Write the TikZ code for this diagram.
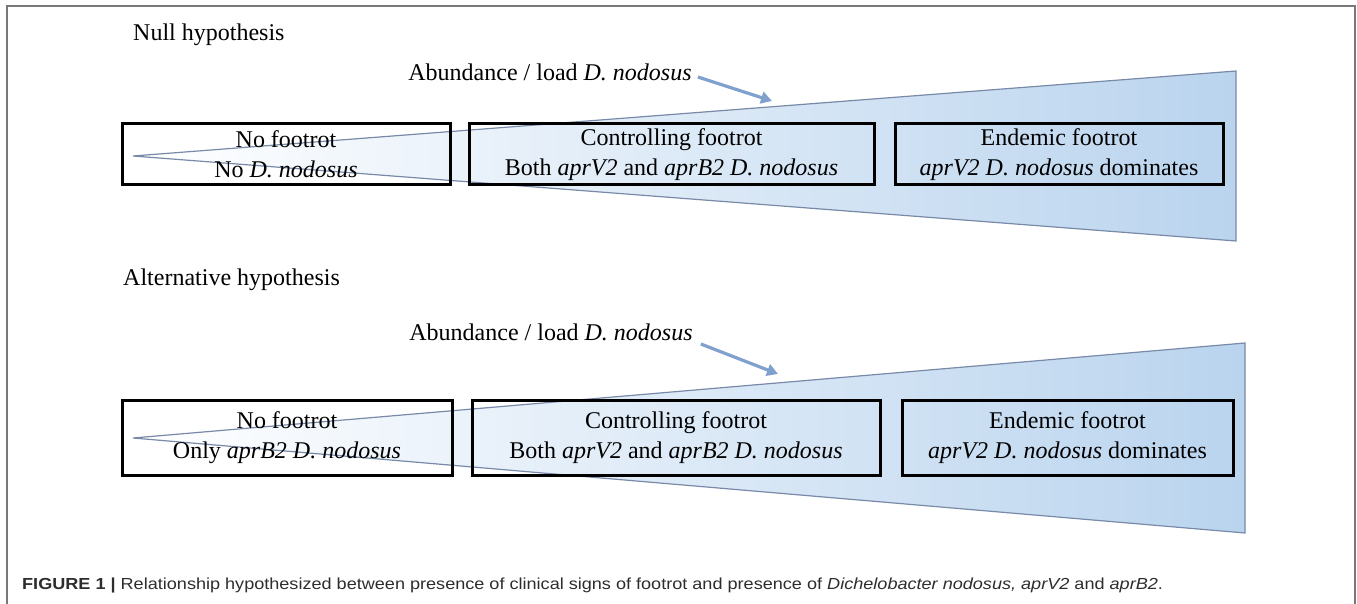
\documentclass[tikz,border=0pt]{standalone}
\usepackage{fontspec}
\setmainfont{Liberation Serif}
\newfontfamily\capfont[FakeStretch=1.13]{Liberation Sans}
\usetikzlibrary{arrows.meta}
\definecolor{triblue}{RGB}{186,212,238}
\definecolor{triedge}{RGB}{120,138,168}
\definecolor{arrblue}{RGB}{128,160,206}
\definecolor{frame}{RGB}{120,120,120}
\definecolor{captext}{RGB}{45,45,45}

\begin{document}
\begin{tikzpicture}[x=1pt,y=-1pt,>=Stealth,
  every node/.style={font=\fontsize{24}{30}\selectfont,inner sep=0pt},
  stagebox/.style={draw,line width=3pt,align=center,minimum height=61pt,
    execute at begin node=\rule{0pt}{23pt}},
  stageboxb/.style={stagebox,minimum height=75pt},
  wedge/.style={draw=triedge,line width=1.2pt,left color=white,right color=triblue},
  loadarrow/.style={->,draw=arrblue,line width=3.2pt,arrows={-Triangle[length=11pt,width=12pt]}}]
\useasboundingbox (0,0) rectangle (1357,604);
\draw[frame,line width=1.4pt] (7,604)--(7,6)--(1355,6)--(1355,604);

% null hypothesis
\coordinate (na) at (133,156);
\coordinate (nt) at (1236,71);
\coordinate (nb) at (1236,241);
\path[wedge] (na)--(nt)--(nb)--cycle;
\node[anchor=west] (nullhd) at (133,35) {Null hypothesis};
\node (nullload) at (550,72) {Abundance / load \textit{D. nodosus}};
\coordinate (nulltip) at (772,101);
\draw[loadarrow] ([shift={(6,5)}]nullload.east)--(nulltip);
\node[stagebox,minimum width=328pt] (nnone) at (286,154.5) {No footrot\\No \textit{D. nodosus}};
\node[stagebox,minimum width=405pt] (nctrl) at (671.5,154.5) {Controlling footrot\\Both \textit{aprV2} and \textit{aprB2 D. nodosus}};
\node[stagebox,minimum width=328pt] (nend) at (1059,154.5) {Endemic footrot\\\textit{aprV2 D. nodosus} dominates};

% alternative hypothesis
\coordinate (aa) at (133,438);
\coordinate (at) at (1245,343);
\coordinate (ab) at (1245,533);
\path[wedge] (aa)--(at)--(ab)--cycle;
\node[anchor=west] (althd) at (123,280) {Alternative hypothesis};
\node (altload) at (551,332) {Abundance / load \textit{D. nodosus}};
\coordinate (alttip) at (778,374);
\draw[loadarrow] ([shift={(8,12)}]altload.east)--(alttip);
\node[stageboxb,minimum width=330pt] (anone) at (287,437.5) {No footrot\\Only \textit{aprB2 D. nodosus}};
\node[stageboxb,minimum width=408pt] (actrl) at (676,437.5) {Controlling footrot\\Both \textit{aprV2} and \textit{aprB2 D. nodosus}};
\node[stageboxb,minimum width=331pt] (aend) at (1067.5,437.5) {Endemic footrot\\\textit{aprV2 D. nodosus} dominates};

\node[anchor=west,text=captext,font=\capfont\fontsize{16}{20}\selectfont] (caption) at (22,585)
  {\textbf{FIGURE 1 |} Relationship hypothesized between presence of clinical signs of footrot and presence of \textit{Dichelobacter nodosus,} \textit{aprV2} and \textit{aprB2}.};
\end{tikzpicture}
\end{document}
